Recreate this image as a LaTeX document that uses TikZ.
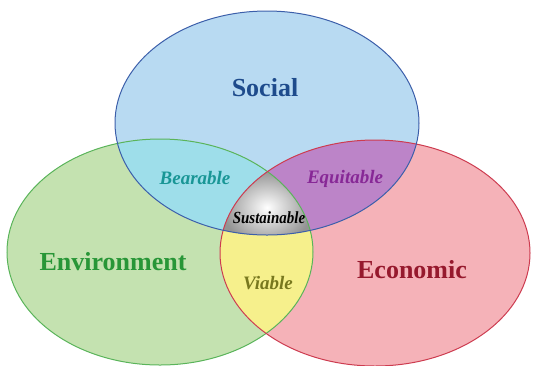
\documentclass[tikz,border=0pt]{standalone}
\usepackage{fontspec}
\setmainfont{Liberation Serif}
\usetikzlibrary{positioning}

\definecolor{socfill}{RGB}{184,218,242}
\definecolor{socline}{RGB}{60,95,170}
\definecolor{envfill}{RGB}{196,226,176}
\definecolor{envline}{RGB}{90,180,90}
\definecolor{ecofill}{RGB}{245,178,184}
\definecolor{ecoline}{RGB}{205,60,80}
\definecolor{bearfill}{RGB}{158,222,234}
\definecolor{equifill}{RGB}{188,132,200}
\definecolor{viafill}{RGB}{246,240,140}
\definecolor{soctext}{RGB}{30,75,140}
\definecolor{envtext}{RGB}{40,150,55}
\definecolor{ecotext}{RGB}{150,25,45}
\definecolor{beartext}{RGB}{25,150,150}
\definecolor{equitext}{RGB}{135,40,150}
\definecolor{viatext}{RGB}{120,120,30}

\def\socialset{(267,123) ellipse [x radius=152, y radius=112]}
\def\envset{(160,252) ellipse [x radius=153, y radius=113]}
\def\ecoset{(375,253) ellipse [x radius=155, y radius=113]}

\begin{document}
\begin{tikzpicture}[
		x = 1pt,
		y = -1pt,
		rim/.style = {
			line width = 1pt
		},
		bigword/.style = {
			font = \fontsize{26}{28}\selectfont\bfseries
		},
		smallword/.style = {
			font = \fontsize{19}{21}\selectfont\bfseries\itshape
		}
	]
	\useasboundingbox (0,0) rectangle (537,365);

	\fill[envfill] \envset;
	\fill[ecofill] \ecoset;
	\fill[socfill] \socialset;

	\begin{scope}
		\clip \envset;
		\fill[viafill] \ecoset;
		\fill[bearfill] \socialset;
	\end{scope}
	\begin{scope}
		\clip \ecoset;
		\fill[equifill] \socialset;
	\end{scope}
	\begin{scope}
		\clip \envset;
		\clip \ecoset;
		\clip \socialset;
		\shade[inner color = white, outer color = gray!85] (222,170) rectangle (312,245);
	\end{scope}

	\draw[rim, envline] \envset;
	\draw[rim, ecoline] \ecoset;
	\draw[rim, socline] \socialset;

	\node[bigword, soctext] (social) at (265,88) {Social};
	\node[bigword, envtext] (environment) at (113,262) {Environment};
	\node[bigword, ecotext] (economic) at (412,270) {Economic};

	\node[smallword, beartext] (bearable) at (195,178) {Bearable};
	\node[smallword, equitext] (equitable) at (345,179) {Equitable};
	\node[smallword, viatext] (viable) at (268,283) {Viable};
	\node[font = \fontsize{17}{19}\selectfont\bfseries\itshape, xscale = 0.88] (sustainable) at (269,218) {Sustainable};
\end{tikzpicture}
\end{document}
